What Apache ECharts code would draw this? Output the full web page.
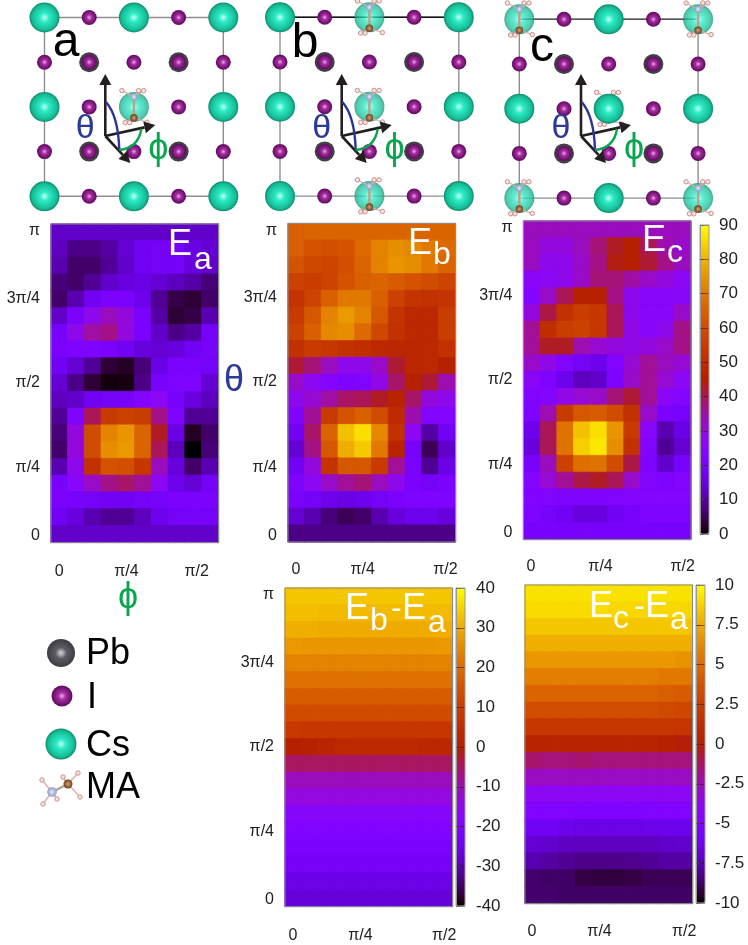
<!DOCTYPE html>
<html>
<head>
<meta charset="utf-8">
<title>Rotation energy maps</title>
<script src="https://cdn.jsdelivr.net/npm/echarts@6/dist/echarts.min.js"></script>
<style>
html, body { margin: 0; padding: 0; background: #fff; }
#main { width: 748px; height: 945px; }
</style>
</head>
<body>
<div id="main"></div>
<script>
// energy maps: rows run from theta = pi (top) down to theta = 0, columns phi = 0 .. pi/2
var phiCells = ['0', '1', '2', '3', '4', '5', '6', '7', '8', '9'];
var thetaCells = ['18', '17', '16', '15', '14', '13', '12', '11', '10', '9', '8', '7', '6', '5', '4', '3', '2', '1', '0'];
var thetaLabels = ['π', '3π/4', 'π/2', 'π/4', '0'];
var phiLabels = ['0', 'π/4', 'π/2'];

var Ea = [
	[13, 13, 13, 13, 13, 13, 13, 13, 13, 13],
	[12, 8, 8, 10, 14, 18, 19, 19, 16, 14],
	[11, 6, 6, 9, 13, 18, 19, 19, 15, 13],
	[7, 6, 9, 13, 15, 16, 14, 12, 10, 7],
	[6, 11, 18, 21, 21, 17, 9, 4, 3, 6],
	[13, 21, 28, 33, 30, 21, 10, 3, 4, 11],
	[20, 28, 35, 37, 30, 21, 13, 8, 10, 19],
	[21, 22, 22, 21, 18, 15, 14, 15, 18, 20],
	[18, 14, 9, 3, 2, 7, 16, 21, 21, 19],
	[14, 8, 3, 0.8, 1, 8, 20, 22, 22, 14],
	[12, 13, 18, 19, 20, 24, 27, 20, 15, 12],
	[9, 22, 40, 55, 57, 56, 37, 22, 9, 9],
	[7, 30, 60, 72, 75, 66, 43, 16, 2, 6],
	[6, 30, 60, 74, 76, 66, 40, 12, 0, 7],
	[11, 28, 52, 62, 61, 54, 33, 15, 6, 11],
	[20, 25, 32, 37, 39, 36, 27, 17, 14, 19],
	[21, 20, 19, 18, 18, 19, 20, 21, 21, 21],
	[18, 15, 11, 9, 9, 12, 17, 19, 20, 19],
	[13, 13, 13, 13, 13, 13, 13, 13, 13, 13]
];
var Eb = [
	[65, 66, 66, 66, 66, 66, 66, 66, 66, 66],
	[65, 62, 61, 62, 67, 72, 74, 73, 70, 67],
	[62, 59, 58, 61, 66, 72, 75, 74, 70, 66],
	[57, 56, 58, 62, 65, 66, 64, 62, 60, 58],
	[53, 58, 65, 70, 70, 65, 57, 53, 52, 53],
	[55, 63, 72, 76, 72, 63, 53, 49, 49, 56],
	[57, 65, 73, 74, 67, 59, 52, 49, 49, 56],
	[52, 55, 54, 52, 51, 49, 48, 48, 49, 52],
	[42, 38, 33, 28, 28, 32, 42, 48, 49, 46],
	[32, 27, 24, 22, 23, 29, 39, 46, 42, 34],
	[28, 31, 35, 39, 40, 43, 47, 39, 30, 28],
	[23, 36, 55, 62, 65, 60, 50, 34, 24, 24],
	[18, 39, 66, 82, 86, 73, 52, 27, 10, 18],
	[14, 37, 63, 79, 83, 70, 47, 20, 5, 13],
	[18, 30, 53, 63, 63, 55, 36, 21, 9, 16],
	[22, 27, 32, 36, 38, 33, 28, 21, 19, 21],
	[21, 19, 17, 16, 17, 19, 21, 22, 22, 22],
	[14, 11, 7, 5, 6, 11, 15, 17, 17, 15],
	[8, 8, 8, 8, 8, 8, 8, 8, 8, 8]
];
var Ec = [
	[33, 33, 33, 33, 33, 33, 33, 33, 33, 33],
	[33, 30, 30, 33, 38, 43, 45, 40, 34, 32],
	[33, 28, 28, 32, 37, 44, 45, 42, 37, 33],
	[26, 27, 28, 32, 38, 38, 35, 32, 30, 27],
	[24, 32, 40, 46, 46, 37, 28, 25, 25, 26],
	[30, 41, 52, 56, 54, 40, 28, 25, 25, 32],
	[36, 51, 56, 57, 54, 40, 29, 25, 28, 37],
	[36, 43, 43, 34, 31, 30, 29, 30, 32, 37],
	[32, 29, 23, 19, 17, 23, 31, 36, 33, 31],
	[26, 22, 17, 12, 13, 22, 32, 36, 31, 27],
	[23, 24, 29, 31, 32, 38, 42, 36, 26, 24],
	[22, 34, 55, 63, 64, 60, 52, 32, 21, 20],
	[17, 40, 69, 82, 86, 75, 55, 25, 11, 16],
	[15, 40, 69, 84, 87, 74, 52, 23, 9, 14],
	[20, 33, 57, 68, 69, 60, 41, 22, 13, 20],
	[23, 31, 36, 41, 43, 40, 32, 24, 22, 24],
	[23, 23, 22, 22, 22, 23, 24, 24, 24, 24],
	[22, 20, 18, 15, 15, 18, 20, 22, 22, 22],
	[20, 20, 20, 20, 20, 20, 20, 20, 20, 20]
];
var EbEa = [
	[33.6, 33.6, 33.6, 33.6, 33.6, 33.6, 33.6, 33.6, 33.6, 33.6],
	[32.5, 32.5, 32, 32, 32, 32, 32, 32, 32, 32],
	[30.5, 30.5, 30, 30, 30, 30, 30, 30, 30, 30.5],
	[27.5, 27, 27, 27, 27, 27, 27, 27, 27, 27.5],
	[24, 24, 24, 24, 24, 24, 24, 24, 24, 24],
	[21, 21, 21, 21, 21, 21, 21, 21, 21, 21],
	[17, 17, 17, 17, 17, 17, 17, 17, 17, 17],
	[13, 13, 13, 13, 13, 13, 13, 13, 13, 13],
	[8.5, 8, 8, 8, 8, 8, 8, 8, 8, 8],
	[0.5, 1, 2, 3.5, 4, 4, 4, 4, 3, 3],
	[-5, -5, -5, -5, -5, -5, -5, -5, -5, -5],
	[-10.5, -10.5, -10.5, -10.5, -10.5, -10.5, -10.5, -10.5, -10.5, -10.5],
	[-13.5, -13.5, -13.5, -13.5, -13.5, -13.5, -13.5, -13.5, -13.5, -13.5],
	[-18, -18, -18, -18, -18, -18, -18, -18, -18, -18],
	[-20, -20, -20, -20, -20, -20, -20, -20, -20, -20],
	[-21.5, -21.5, -21.5, -21.5, -21.5, -21.5, -21.5, -21.5, -21.5, -21.5],
	[-23, -23, -23, -23, -23, -23, -23, -23, -23, -23],
	[-25.5, -25.5, -25.5, -25.5, -25.5, -25.5, -25.5, -25.5, -25.5, -25.5],
	[-27, -27, -27, -27, -27, -27, -27, -27, -27, -27]
];
var EcEa = [
	[9.2, 9.2, 9.2, 9.2, 9.2, 9.2, 9.2, 9.2, 9.2, 9.2],
	[9, 9, 9, 9, 9, 8.9, 8.9, 8.9, 8.9, 8.9],
	[8.4, 8.4, 8.4, 8.4, 8.4, 8.4, 8.4, 8.4, 8.4, 8.4],
	[7.6, 7.6, 7.6, 7.6, 7.6, 7.6, 7.6, 7.6, 7.6, 7.6],
	[6.8, 6.8, 6.8, 6.8, 6.8, 6.8, 6.8, 6.8, 6.8, 6.6],
	[5.8, 5.8, 5.8, 5.8, 5.8, 5.8, 5.8, 5.8, 5.6, 5.6],
	[4.6, 4.6, 4.6, 4.6, 4.6, 4.6, 4.6, 4.6, 4.4, 4.2],
	[3.4, 3.4, 3.4, 3.4, 3.4, 3.4, 3.4, 3.4, 3.2, 3],
	[2, 2, 2, 2, 2, 2, 2, 2, 2, 1.8],
	[0.4, 0.4, 0.4, 0.4, 0.4, 0.4, 0.4, 0.4, 0.2, -0.1],
	[-1.4, -1.6, -1.6, -1.4, -1.6, -1.6, -1.6, -1.6, -1.6, -1.6],
	[-2.8, -2.8, -2.8, -2.8, -2.8, -2.8, -2.8, -2.8, -2.8, -2.8],
	[-4, -4, -4, -4, -4, -4, -4, -4, -4, -4],
	[-5, -5, -5, -5.1, -5.1, -5.1, -5.1, -5, -5, -5],
	[-6, -6, -6.2, -6.4, -6.4, -6.4, -6.4, -6.3, -6.2, -6.2],
	[-6.9, -7, -7.2, -7.3, -7.3, -7.3, -7.3, -7.3, -7.1, -7],
	[-7.6, -7.8, -8, -8.2, -8.2, -8.2, -8.1, -8, -7.8, -7.8],
	[-8.6, -8.7, -8.7, -9.1, -9.2, -9.2, -9.1, -8.9, -8.9, -8.9],
	[-8.6, -8.6, -8.7, -8.7, -8.7, -8.7, -8.7, -8.7, -8.7, -8.7]
];

// crystal sites in lattice units
var iodineSites = [[0.5, 0], [1.5, 0], [0, 0.5], [0.5, 0.5], [1, 0.5], [1.5, 0.5], [2, 0.5], [0.5, 1], [1.5, 1], [0, 1.5], [0.5, 1.5], [1, 1.5], [1.5, 1.5], [2, 1.5], [0.5, 2], [1.5, 2]];
var leadSites = [[0.5, 0.5], [1.5, 0.5], [0.5, 1.5], [1.5, 1.5]];
var csSitesA = [[0, 0], [1, 0], [2, 0], [0, 1], [2, 1], [0, 2], [1, 2], [2, 2]];
var csHazeA = [[1, 1]];
var maSitesA = [[1, 1]];
var csSitesB = [[0, 0], [2, 0], [0, 1], [2, 1], [0, 2], [2, 2]];
var csHazeB = [[1, 0], [1, 1], [1, 2]];
var maSitesB = [[1, 0], [1, 1], [1, 2]];
var csSitesC = [[1, 0], [0, 1], [1, 1], [2, 1], [1, 2]];
var csHazeC = [[0, 0], [2, 0], [0, 2], [2, 2]];
var maSitesC = [[0, 0], [2, 0], [1, 1], [0, 2], [2, 2]];
var cellOutline = [[0, 0], [2, 0], [2, 2], [0, 2], [0, 0]];

var font = '"Liberation Sans", Arial, sans-serif';
var Radial = echarts.graphic.RadialGradient;

function ballFill(stops) {
	return new Radial(0.5, 0.5, 0.5, stops);
}
var csFill = ballFill([{ offset: 0, color: '#c8fff6' }, { offset: 0.3, color: '#2cecc6' }, { offset: 0.82, color: '#17bd96' }, { offset: 1, color: '#0d8d6e' }]);
var iFill = ballFill([{ offset: 0, color: '#f2a8ea' }, { offset: 0.35, color: '#a52fa0' }, { offset: 0.8, color: '#741273' }, { offset: 1, color: '#5c0e5e' }]);
var pbFill = ballFill([{ offset: 0, color: '#d8d8dc' }, { offset: 0.4, color: '#5c5c62' }, { offset: 1, color: '#3c3c42' }]);

// gnuplot default pm3d palette (rgbformulae 7,5,15)
function pm3d(x) {
	var r = Math.sqrt(x), g = x * x * x, b = Math.max(0, Math.sin(2 * Math.PI * x));
	return 'rgb(' + Math.round(r * 255) + ',' + Math.round(g * 255) + ',' + Math.round(b * 255) + ')';
}
var heatColors = [];
for (var k = 0; k <= 60; k++) {
	heatColors.push(pm3d(k / 60));
}

var grids = [], xAxes = [], yAxes = [], seriesList = [], maps = [], graphics = [];

function addGrid(left, top, width, height, xa, ya) {
	grids.push({ left: left, top: top, width: width, height: height, containLabel: false, show: false });
	var g = grids.length - 1;
	xa.gridIndex = g;
	ya.gridIndex = g;
	xAxes.push(xa);
	yAxes.push(ya);
	return xAxes.length - 1;
}

var hiddenValue = function(min, max, inverse) {
	return { type: 'value', min: min, max: max, inverse: !!inverse, show: false, splitLine: { show: false } };
};

function label(t, x, y, size, color, align, z) {
	graphics.push({
		type: 'text', x: x, y: y, z: z || 20, silent: true,
		style: { text: t, fill: color, font: size + 'px ' + font, textAlign: align || 'left', textVerticalAlign: 'middle' }
	});
}

function ball(x, y, r, fill, z) {
	graphics.push({ type: 'circle', z: z || 10, silent: true, shape: { cx: x, cy: y, r: r }, style: { fill: fill } });
}

function stick(x1, y1, x2, y2, color, w, z) {
	graphics.push({ type: 'line', z: z || 10, silent: true, shape: { x1: x1, y1: y1, x2: x2, y2: y2 }, style: { stroke: color, lineWidth: w } });
}

function hydrogen(x, y, z) {
	graphics.push({ type: 'circle', z: z, silent: true, shape: { cx: x, cy: y, r: 2.2 }, style: { fill: '#f8e4e0', stroke: '#c88f8a', lineWidth: 1 } });
}

function molecule(x, y, z) {
	var n = [x, y - 10], c = [x, y + 11];
	var hs = [[-12, -16.3, n], [4.7, -16.3, n], [9.7, -16.3, n], [-8.7, 15.7, c], [-4.3, 15.7, c], [13, 15.3, c]];
	stick(n[0], n[1], c[0], c[1], '#b5a590', 2.5, z);
	hs.forEach(function(h) {
		stick(h[2][0], h[2][1], x + h[0], y + h[1], '#d8b0a8', 1.2, z);
	});
	hs.forEach(function(h) {
		hydrogen(x + h[0], y + h[1], z);
	});
	ball(n[0], n[1], 3.5, ballFill([{ offset: 0, color: '#e8ecff' }, { offset: 1, color: '#8f9ac4' }]), z);
	ball(c[0], c[1], 3.8, ballFill([{ offset: 0, color: '#d8a070' }, { offset: 1, color: '#6a3f1e' }]), z);
}

function arrow(x1, y1, x2, y2) {
	var a = Math.atan2(y2 - y1, x2 - x1), len = 11, wid = 6;
	var bx = x2 - Math.cos(a) * len, by = y2 - Math.sin(a) * len;
	stick(x1, y1, bx, by, '#231f20', 2.6, 12);
	graphics.push({
		type: 'polygon', z: 12, silent: true,
		shape: { points: [[x2, y2], [bx - Math.sin(a) * wid, by + Math.cos(a) * wid], [bx + Math.sin(a) * wid, by - Math.cos(a) * wid]] },
		style: { fill: '#231f20' }
	});
}

function curve(x0, y0, x1, y1, cx, cy, color) {
	graphics.push({
		type: 'bezierCurve', z: 13, silent: true,
		shape: { x1: x0, y1: y0, x2: x1, y2: y1, cpx1: cx, cpy1: cy },
		style: { stroke: color, lineWidth: 2.4, fill: 'none' }
	});
}

function addCrystal(p) {
	var step = 89.4;
	var i = addGrid(p.left, p.top, step * 2, step * 2, hiddenValue(0, 2), hiddenValue(0, 2, true));
	var s = function(d) {
		d.xAxisIndex = i;
		d.yAxisIndex = i;
		d.clip = false;
		d.silent = true;
		d.animation = false;
		seriesList.push(d);
	};
	s({ type: 'line', data: cellOutline, symbol: 'none', z: 1, lineStyle: { color: '#8e8e8e', width: 1.4 } });
	if (p.topLine) {
		s({ type: 'line', data: cellOutline.slice(0, 2), symbol: 'none', z: 1, lineStyle: { color: p.topLine, width: 1.4 } });
	}
	s({ type: 'scatter', data: p.cs, symbolSize: 30, z: 3, itemStyle: { color: csFill, opacity: 1 } });
	s({ type: 'scatter', data: p.haze, symbolSize: 30, z: 3, itemStyle: { color: csFill, opacity: 0.75 } });
	s({ type: 'scatter', data: leadSites, symbolSize: 20, z: 4, itemStyle: { color: '#404045', opacity: 1 } });
	s({ type: 'scatter', data: iodineSites, symbolSize: 15, z: 5, itemStyle: { color: iFill, opacity: 1 } });
	p.ma.forEach(function(m) {
		var under = p.under && p.under[0] === m[0] && p.under[1] === m[1];
		molecule(p.left + step * m[0], p.top + step * m[1], under ? 1 : 10);
	});
	var ax = p.ax, ay = p.ay;
	arrow(ax, ay, ax, ay - 62);
	arrow(ax, ay, ax + 50, ay - 11);
	arrow(ax, ay, ax + 25, ay + 27);
	curve(ax + 0.7, ay - 34, ax + 14, ay + 14, ax + 13, ay - 20, '#2a3595');
	curve(ax + 14, ay + 14, ax + 36, ay - 7, ax + 33, ay + 12, '#0aa550');
	label('θ', ax - 20, ay - 7, 34, '#2c3a94', 'center');
	label('ϕ', ax + 53, ay + 13, 36, '#0aa550', 'center');
	label(p.name, p.nameX, p.nameY, 48, '#000', 'center', 25);
}

function addHeat(p) {
	var h = 16.76 * 19, w = 16.75 * 10;
	// heat cells on category axes
	var i = addGrid(p.left, p.top, w, h,
		{ type: 'category', data: phiCells, show: false },
		{ type: 'category', data: thetaCells, inverse: true, show: false });
	var cells = [];
	p.rows.forEach(function(r, y) {
		r.forEach(function(v, x) {
			// hairline in the cell's own colour closes the seams between cells
			cells.push({ value: [x, y, v], itemStyle: { borderColor: pm3d((v - p.min) / (p.max - p.min)), borderWidth: 0.7 } });
		});
	});
	seriesList.push({
		type: 'heatmap', xAxisIndex: i, yAxisIndex: i, data: cells, silent: true, animation: false, z: 2,
		emphasis: { disabled: true }, progressive: 0
	});
	var idx = seriesList.length - 1;
	maps.push({
		type: 'continuous', seriesIndex: idx, min: p.min, max: p.max, show: !!p.bar, calculable: false, hoverLink: false,
		inRange: { color: heatColors }, padding: 0, itemWidth: 9, itemHeight: p.bar ? p.bar.height : 100,
		left: p.bar ? p.bar.left : 0, top: p.bar ? p.bar.top : 0, text: null, showLabel: false, z: 4
	});
	// hand placed tick labels on a second pair of axes in cell units
	var xt = p.phiTicks;
	addGrid(p.left, p.top, w, h, {
		type: 'value', min: 0, max: 10, position: 'bottom',
		axisLine: { show: false }, axisTick: { show: false }, splitLine: { show: false },
		axisLabel: {
			show: true, customValues: xt, margin: p.phiMargin, fontFamily: font, fontSize: 16, color: '#222', hideOverlap: false,
			formatter: function(v) { return phiLabels[xt.indexOf(v)]; }
		}
	}, p.thetaTicks ? {
		type: 'value', min: 0, max: 19, inverse: true, position: 'left',
		axisLine: { show: false }, axisTick: { show: false }, splitLine: { show: false },
		axisLabel: {
			show: true, customValues: p.thetaTicks, margin: 11, fontFamily: font, fontSize: 16, color: '#222', hideOverlap: false,
			formatter: function(v) { return thetaLabels[p.thetaTicks.indexOf(v)]; }
		}
	} : hiddenValue(0, 19, true));
	// frame on top of the cells
	graphics.push({
		type: 'rect', z: 18, silent: true, shape: { x: p.left, y: p.top, width: w, height: h },
		style: { fill: 'none', stroke: '#8a8a8a', lineWidth: 1 }
	});
	if (p.bar) {
		addGrid(p.bar.left, p.bar.top, 9, p.bar.height, hiddenValue(0, 1), {
			type: 'value', min: p.min, max: p.max, interval: p.bar.step, position: 'right', z: 6,
			axisLine: { show: true, lineStyle: { color: '#999', width: 1 } },
			axisTick: { show: true, length: 4, lineStyle: { color: '#444' } },
			splitLine: { show: true, lineStyle: { color: 'rgba(50,25,0,0.55)', width: 1 } },
			axisLabel: { show: true, margin: p.bar.margin, fontFamily: font, fontSize: 17, color: '#222', padding: [7, 0, 0, 0], hideOverlap: false, showMinLabel: true, showMaxLabel: true }
		});
		graphics.push({
			type: 'rect', z: 17, silent: true, shape: { x: p.bar.left, y: p.bar.top, width: 9, height: p.bar.height },
			style: { fill: 'none', stroke: '#999', lineWidth: 1 }
		});
	}
	p.tag.forEach(function(t) {
		label(t[0], t[1], t[2], t[3], '#fff', 'left', 22);
	});
}

addCrystal({ left: 44.5, top: 17.5, cs: csSitesA, haze: csHazeA, ma: maSitesA, ax: 105.3, ay: 136, name: 'a', nameX: 66, nameY: 42.5 });
addCrystal({ left: 280, top: 17.3, cs: csSitesB, haze: csHazeB, ma: maSitesB, ax: 341.7, ay: 136, name: 'b', nameX: 305, nameY: 44, topLine: '#111' });
addCrystal({ left: 519.3, top: 19.3, cs: csSitesC, haze: csHazeC, ma: maSitesC, under: [1, 1], ax: 581, ay: 136, name: 'c', nameX: 542, nameY: 48, topLine: '#555' });

var thetaTicks = [0.4, 4.45, 9.45, 14.55, 18.6];
addHeat({ left: 51, top: 224, rows: Ea, min: 0, max: 90, phiTicks: [0.49, 4.5, 8.7], phiMargin: 21, thetaTicks: thetaTicks, tag: [['E', 168, 245, 36], ['a', 194, 260, 32]] });
addHeat({ left: 288, top: 223.5, rows: Eb, min: 0, max: 90, phiTicks: [0.48, 4.46, 9.4], phiMargin: 20, thetaTicks: thetaTicks, tag: [['E', 408, 244, 36], ['b', 433, 255, 32]] });
addHeat({
	left: 523.5, top: 221, rows: Ec, min: 0, max: 90, phiTicks: [0.45, 4.6, 9.5], phiMargin: 19, thetaTicks: thetaTicks,
	tag: [['E', 642, 241, 36], ['c', 667, 253, 32]],
	bar: { left: 700, top: 225, height: 309, step: 10, margin: 10 }
});
addHeat({
	left: 285, top: 588, rows: EbEa, min: -40, max: 40, phiTicks: [0.48, 4.5, 9.5], phiMargin: 21, thetaTicks: thetaTicks,
	tag: [['E', 345, 609, 36], ['b', 370, 621, 32], ['-', 391, 609, 32], ['E', 402, 609, 36], ['a', 428, 623, 32]],
	bar: { left: 456, top: 588, height: 318, step: 10, margin: 11 }
});
addHeat({
	left: 525, top: 585, rows: EcEa, min: -10, max: 10, phiTicks: [0.42, 4.45, 9.5], phiMargin: 20,
	tag: [['E', 589, 607, 36], ['c', 613, 619, 32], ['-', 634, 607, 32], ['E', 645, 607, 36], ['a', 670, 620, 32]],
	bar: { left: 696, top: 585, height: 318, step: 2.5, margin: 10 }
});

// axis letters and atom key
label('θ', 234, 381, 36, '#2c3a94', 'center');
label('ϕ', 128, 598, 36, '#0aa550', 'center');

ball(61, 653, 14, pbFill);
ball(62, 696, 10.5, iFill);
ball(61, 744, 15.5, csFill);
label('Pb', 86, 654, 36, '#000');
label('I', 87, 698, 36, '#000');
label('Cs', 86, 746, 36, '#000');
label('MA', 86, 788, 36, '#000');

var maC = [68, 784], maN = [52, 792];
stick(maC[0], maC[1], maN[0], maN[1], '#b5a590', 2.5, 10);
[[63, 777, maC], [78, 773, maC], [80, 797, maC], [42, 780, maN], [43, 804, maN], [57, 799, maN]].forEach(function(h) {
	stick(h[2][0], h[2][1], h[0], h[1], '#d8b0a8', 1.4, 10);
	hydrogen(h[0], h[1], 11);
});
ball(maC[0], maC[1], 4.5, ballFill([{ offset: 0, color: '#d8a070' }, { offset: 1, color: '#6a3f1e' }]), 12);
ball(maN[0], maN[1], 4.8, ballFill([{ offset: 0, color: '#e8ecff' }, { offset: 1, color: '#8f9ac4' }]), 12);

var myChart = echarts.init(document.getElementById('main'));
myChart.setOption({
	animation: false,
	backgroundColor: '#fff',
	grid: grids,
	xAxis: xAxes,
	yAxis: yAxes,
	visualMap: maps,
	series: seriesList,
	graphic: { elements: graphics }
});
</script>
</body>
</html>
